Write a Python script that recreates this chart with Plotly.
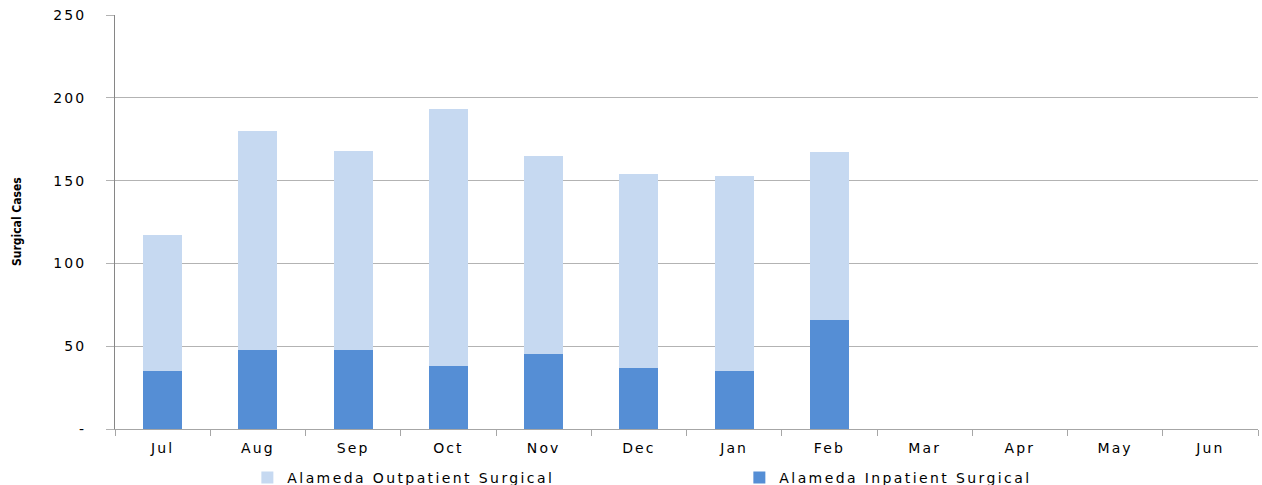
import plotly.graph_objects as go

months = ["Jul", "Aug", "Sep", "Oct", "Nov", "Dec", "Jan", "Feb", "Mar", "Apr", "May", "Jun"]
inpatient = [35, 48, 48, 38, 45, 37, 35, 66, None, None, None, None]
outpatient = [82, 132, 120, 155, 120, 117, 118, 101, None, None, None, None]
y_tickvals = [0, 50, 100, 150, 200, 250]
y_ticktext = ["-", "50", "100", "150", "200", "250"]

fig = go.Figure()
fig.add_trace(go.Bar(x=months, y=inpatient, name="Alameda Inpatient Surgical",
                     marker=dict(color="#558ED5", line=dict(width=0))))
fig.add_trace(go.Bar(x=months, y=outpatient, name="Alameda Outpatient Surgical",
                     marker=dict(color="#C6D9F1", line=dict(width=0))))

fig.update_layout(
    width=1262, height=485,
    barmode="stack", bargap=0.59,
    plot_bgcolor="white", paper_bgcolor="white",
    margin=dict(l=115, r=4, t=15, b=56, autoexpand=False),
    font=dict(family="DejaVu Sans", size=13, color="black"),
    legend=dict(orientation="h", traceorder="reversed", x=0.1158, xanchor="left",
                y=-0.118, yanchor="middle", font=dict(size=14),
                entrywidth=447, bgcolor="rgba(0,0,0,0)"),
    showlegend=True,
)
fig.update_xaxes(showline=True, linecolor="#A6A6A6", linewidth=1,
                 ticks="outside", tickson="boundaries", ticklen=6, tickcolor="#A6A6A6",
                 showgrid=False, ticklabelstandoff=6, tickfont=dict(size=14))
fig.update_yaxes(range=[0, 250], tickvals=y_tickvals, ticktext=y_ticktext,
                 showline=True, linecolor="#868686", linewidth=1,
                 ticks="outside", ticklen=8, tickcolor="#B3B3B3",
                 showgrid=True, gridcolor="#B3B3B3", gridwidth=1,
                 ticklabelstandoff=17, tickfont=dict(size=14), zeroline=False)
fig.add_annotation(text="<b>Surgical Cases</b>", xref="paper", yref="paper",
                   x=-(115 - 17) / 1143, y=0.5, xanchor="center", yanchor="middle",
                   textangle=-90, showarrow=False,
                   font=dict(family="DejaVu Sans Condensed", size=12, color="black"))

post = """
function spaceText(){
  document.querySelectorAll('.xtick text, .ytick text').forEach(function(t){ t.style.letterSpacing='2.1px'; });
  document.querySelectorAll('.legendtext').forEach(function(t){ t.style.letterSpacing='2.4px'; });
}
spaceText();
"""
fig.write_html("out.html", post_script=post)
